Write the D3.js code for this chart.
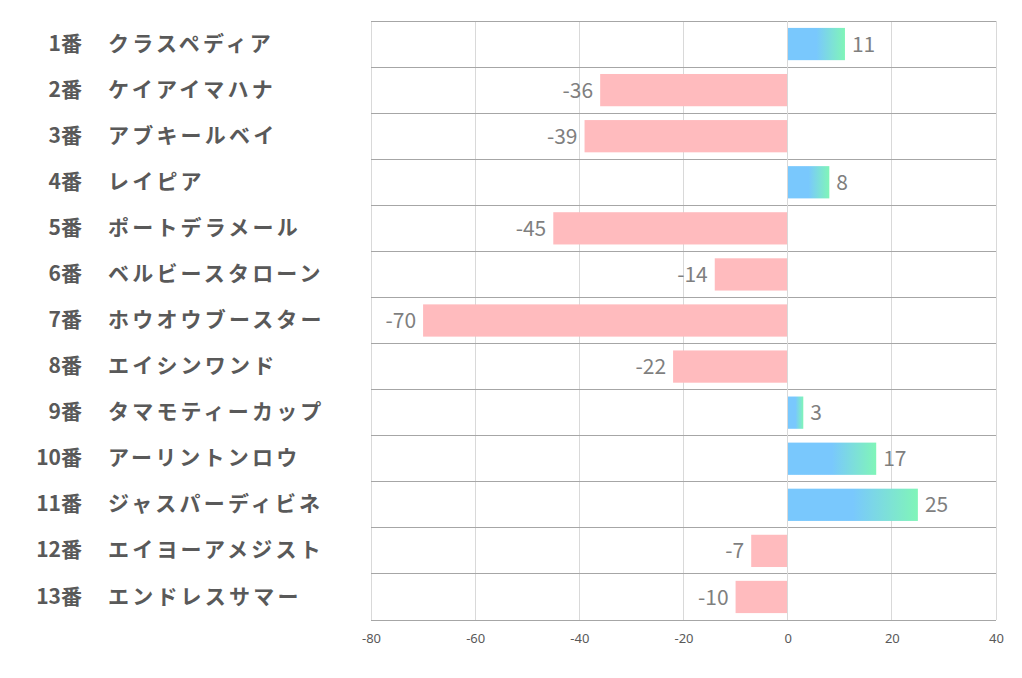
<!DOCTYPE html>
<html><head><meta charset="utf-8">
<script src="https://cdn.jsdelivr.net/npm/d3@7"></script>
<style>body{margin:0;background:#fff}svg{display:block}</style>
</head><body>
<svg id="c" width="1022" height="678"></svg>
<script>
const numbers = ["1番","2番","3番","4番","5番","6番","7番","8番","9番","10番","11番","12番","13番"];
const names = ["クラスペディア","ケイアイマハナ","アブキールベイ","レイピア","ポートデラメール","ベルビースタローン","ホウオウブースター","エイシンワンド","タマモティーカップ","アーリントンロウ","ジャスパーディビネ","エイヨーアメジスト","エンドレスサマー"];
const values = [11,-36,-39,8,-45,-14,-70,-22,3,17,25,-7,-10];
const ticks = [-80,-60,-40,-20,0,20,40];

const svg = d3.select("#c");
const L = 371, R = 996, T = 21, B = 620;
const x = d3.scaleLinear().domain([-80,40]).range([L,R]);
const y = d3.scaleBand().domain(d3.range(values.length)).range([T,B]).paddingInner(0.3).paddingOuter(0.15);
const rowH = (B-T)/values.length;

const defs = svg.append("defs");
const g = defs.append("linearGradient").attr("id","pos").attr("x1","0").attr("x2","1").attr("y1","0").attr("y2","0");
g.append("stop").attr("offset","0").attr("stop-color","#79c8fd");
g.append("stop").attr("offset","0.5").attr("stop-color","#79c8fd");
g.append("stop").attr("offset","1").attr("stop-color","#80f5b8");

// vertical gridlines
svg.append("g").selectAll("line").data(ticks).join("line")
  .attr("x1",d=>x(d)).attr("x2",d=>x(d)).attr("y1",T).attr("y2",B)
  .attr("stroke","#d9d9d9").attr("stroke-width",1).attr("shape-rendering","crispEdges");
// horizontal gridlines
svg.append("g").selectAll("line").data(d3.range(values.length+1)).join("line")
  .attr("x1",L).attr("x2",R).attr("y1",i=>T+i*rowH).attr("y2",i=>T+i*rowH)
  .attr("stroke","#a6a6a6").attr("stroke-width",1).attr("shape-rendering","crispEdges");

// bars
svg.append("g").selectAll("rect").data(values).join("rect")
  .attr("x",d=>x(Math.min(0,d))).attr("width",d=>Math.abs(x(d)-x(0)))
  .attr("y",(d,i)=>y(i)).attr("height",y.bandwidth())
  .attr("fill",d=>d>=0?"url(#pos)":"#ffbbbe");

// zero line
svg.append("line").attr("x1",x(0)).attr("x2",x(0)).attr("y1",T).attr("y2",B)
  .attr("stroke","#d9d9d9").attr("shape-rendering","crispEdges");

// value labels
svg.append("g").selectAll("text").data(values).join("text")
  .attr("x",d=>d>=0?x(d)+7:x(d)-7)
  .attr("y",(d,i)=>y(i)+y.bandwidth()/2)
  .attr("dy","0.36em")
  .attr("text-anchor",d=>d>=0?"start":"end")
  .attr("font-family","'Noto Sans CJK JP','Noto Sans',sans-serif")
  .attr("font-size",21).attr("fill","#7f7f7f")
  .text(d=>String(d));

// x axis
const ax = svg.append("g").attr("transform",`translate(0,${B})`)
  .call(d3.axisBottom(x).tickValues(ticks).tickSize(0).tickPadding(14).tickFormat(d=>String(d)));
ax.select(".domain").remove();
ax.selectAll("text").attr("font-family","'Noto Sans','Noto Sans CJK JP',sans-serif").attr("font-size",13).attr("fill","#595959");

// category labels
const lab = svg.append("g");
lab.selectAll("text.n").data(numbers).join("text").attr("class","n")
  .attr("x",82).attr("y",(d,i)=>T+(i+0.5)*rowH-1).attr("dy","0.36em")
  .attr("text-anchor","end")
  .attr("font-family","'Noto Sans CJK JP',sans-serif").attr("font-weight","bold")
  .attr("font-size",21).attr("fill","#595959").text(d=>d);
lab.selectAll("text.m").data(names).join("text").attr("class","m")
  .attr("x",108).attr("y",(d,i)=>T+(i+0.5)*rowH-1).attr("dy","0.36em")
  .attr("letter-spacing",3.2)
  .attr("font-family","'Noto Sans CJK JP',sans-serif").attr("font-weight","bold")
  .attr("font-size",21).attr("fill","#595959").text(d=>d);
</script>
</body></html>
